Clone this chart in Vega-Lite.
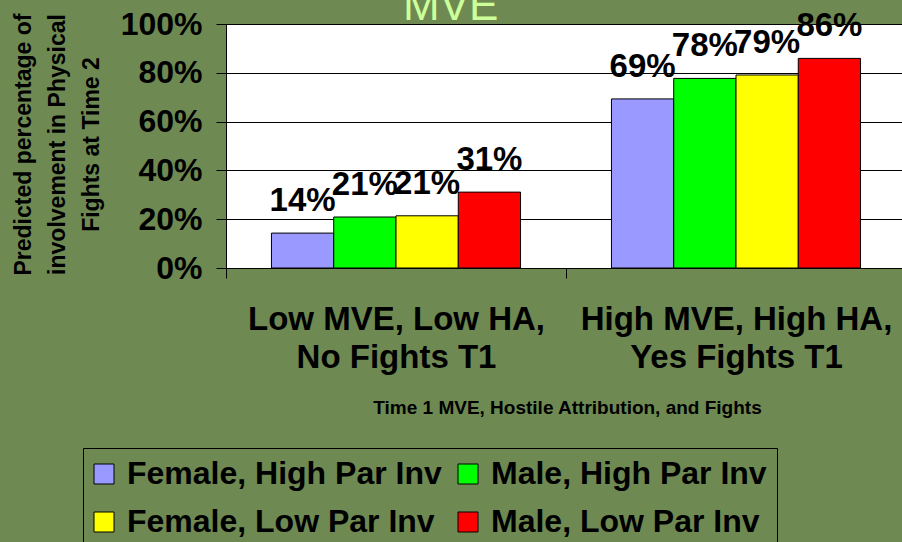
{
  "$schema": "https://vega.github.io/schema/vega-lite/v6.json",
  "width": 680,
  "height": 244,
  "autosize": {"type": "none"},
  "padding": {"left": 226, "top": 24, "right": 0, "bottom": 274},
  "background": "#6e8a52",
  "title": {
    "text": "MVE",
    "anchor": "start",
    "frame": "group",
    "dx": 177,
    "dy": 58,
    "offset": 2,
    "baseline": "alphabetic",
    "font": "Liberation Sans",
    "fontSize": 44,
    "fontWeight": "normal",
    "color": "#ccff99"
  },
  "data": {
    "values": [
      {"group": "Low MVE, Low HA, No Fights T1", "series": "Female, High Par Inv", "value": 0.143},
      {"group": "Low MVE, Low HA, No Fights T1", "series": "Male, High Par Inv", "value": 0.209},
      {"group": "Low MVE, Low HA, No Fights T1", "series": "Female, Low Par Inv", "value": 0.214},
      {"group": "Low MVE, Low HA, No Fights T1", "series": "Male, Low Par Inv", "value": 0.311},
      {"group": "High MVE, High HA, Yes Fights T1", "series": "Female, High Par Inv", "value": 0.693},
      {"group": "High MVE, High HA, Yes Fights T1", "series": "Male, High Par Inv", "value": 0.777},
      {"group": "High MVE, High HA, Yes Fights T1", "series": "Female, Low Par Inv", "value": 0.791},
      {"group": "High MVE, High HA, Yes Fights T1", "series": "Male, Low Par Inv", "value": 0.859}
    ]
  },
  "encoding": {
    "x": {
      "field": "group",
      "type": "nominal",
      "sort": ["Low MVE, Low HA, No Fights T1", "High MVE, High HA, Yes Fights T1"],
      "scale": {"paddingInner": 0, "paddingOuter": 0},
      "axis": {
        "labelAngle": 0,
        "labelExpr": "datum.value == 'Low MVE, Low HA, No Fights T1' ? ['Low MVE, Low HA,', 'No Fights T1'] : datum.value == 'High MVE, High HA, Yes Fights T1' ? ['High MVE, High HA,', 'Yes Fights T1'] : ''",
        "labelFont": "Liberation Sans",
        "labelFontSize": 33,
        "labelFontWeight": "bold",
        "labelColor": "black",
        "labelBaseline": "middle",
        "labelLineHeight": 38,
        "labelPadding": 41,
        "labelLimit": 0,
        "tickBand": "extent",
        "tickSize": 10,
        "tickColor": "black",
        "domainColor": "black",
        "grid": false,
        "title": "Time 1 MVE, Hostile Attribution, and Fights",
        "titleFont": "Liberation Sans",
        "titleFontSize": 19,
        "titleFontWeight": "bold",
        "titleColor": "black",
        "titleX": 341,
        "titleY": 139,
        "titleAlign": "center",
        "titleBaseline": "middle"
      }
    },
    "xOffset": {
      "field": "series",
      "type": "nominal",
      "sort": ["Female, High Par Inv", "Male, High Par Inv", "Female, Low Par Inv", "Male, Low Par Inv"],
      "scale": {"paddingInner": 0, "paddingOuter": 0.73}
    },
    "y": {
      "field": "value",
      "type": "quantitative",
      "scale": {"domain": [0, 1], "nice": false},
      "axis": {
        "values": [0, 0.2, 0.4, 0.6, 0.8, 1],
        "format": ".0%",
        "labelFont": "Liberation Sans",
        "labelFontSize": 32,
        "labelFontWeight": "bold",
        "labelColor": "black",
        "labelPadding": 14,
        "tickSize": 10,
        "tickColor": "black",
        "domainColor": "black",
        "grid": true,
        "gridColor": "black",
        "gridOpacity": 1,
        "gridWidth": 1,
        "title": ["Predicted percentage of", "involvement in  Physical", "Fights at Time 2"],
        "titleFont": "Liberation Sans",
        "titleFontSize": 23,
        "titleFontWeight": "bold",
        "titleColor": "black",
        "titleLineHeight": 34,
        "titleAngle": -90,
        "titleX": -203,
        "titleY": 120,
        "titleAlign": "center",
        "titleBaseline": "middle"
      }
    }
  },
  "layer": [
    {
      "mark": {"type": "bar", "stroke": "black", "strokeWidth": 1},
      "encoding": {
        "color": {
          "field": "series",
          "type": "nominal",
          "sort": ["Female, High Par Inv", "Male, High Par Inv", "Female, Low Par Inv", "Male, Low Par Inv"],
          "scale": {
            "domain": ["Female, High Par Inv", "Male, High Par Inv", "Female, Low Par Inv", "Male, Low Par Inv"],
            "range": ["#9999ff", "#00ff00", "#ffff00", "#ff0000"]
          },
          "legend": {
            "title": null,
            "orient": "none",
            "direction": "horizontal",
            "legendX": -143,
            "legendY": 424,
            "columns": 2,
            "padding": 10,
            "rowPadding": 16,
            "columnPadding": 14,
            "strokeColor": "black",
            "symbolType": "square",
            "symbolSize": 400,
            "symbolOffset": -5,
            "symbolStrokeColor": "black",
            "symbolStrokeWidth": 1,
            "labelFont": "Liberation Sans",
            "labelFontSize": 32,
            "labelFontWeight": "bold",
            "labelColor": "black",
            "labelLimit": 500,
            "labelOffset": 7
          }
        }
      }
    },
    {
      "mark": {
        "type": "text",
        "baseline": "alphabetic",
        "dy": -22,
        "font": "Liberation Sans",
        "fontSize": 33,
        "fontWeight": "bold",
        "color": "black"
      },
      "encoding": {
        "text": {"field": "value", "type": "quantitative", "format": ".0%"}
      }
    }
  ],
  "config": {
    "view": {"fill": "white", "stroke": "black", "strokeWidth": 1}
  }
}
